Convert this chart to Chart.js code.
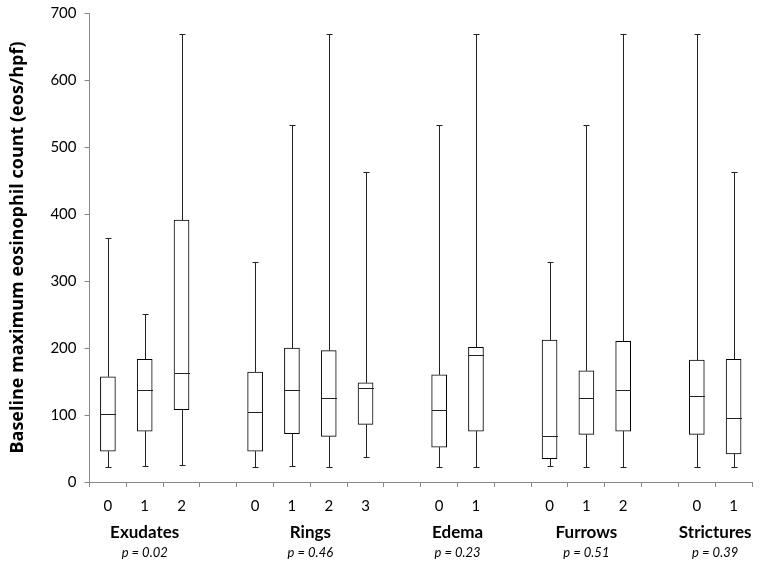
<!DOCTYPE html>
<html>
<head>
<meta charset="utf-8">
<script src="https://cdn.jsdelivr.net/npm/chart.js@4"></script>
<style>
  body { margin: 0; background: #fff; }
  #wrap { width: 762px; height: 569px; }
</style>
</head>
<body>
<div id="wrap"><canvas id="myChart"></canvas></div>
<script>
// slots on the x axis, '' = gap between groups
const categories = ['0', '1', '2', '', '0', '1', '2', '3', '', '0', '1', '', '0', '1', '2', '', '0', '1'];
const groups = ['Exudates', 'Rings', 'Edema', 'Furrows', 'Strictures'];
const pValues = ['p = 0.02', 'p = 0.46', 'p = 0.23', 'p = 0.51', 'p = 0.39'];

// box plot stats per slot (eos/hpf)
const mins    = [22, 24, 25, null, 23, 24, 22, 38, null, 22, 23, null, 24, 23, 22, null, 22, 23];
const q1      = [46, 76, 108, null, 46, 72, 68, 86, null, 52, 76, null, 35, 71, 76, null, 71, 42];
const medians = [102, 138, 162, null, 104, 138, 126, 141, null, 107, 190, null, 68, 125, 137, null, 128, 95];
const q3      = [157, 183, 391, null, 164, 200, 196, 148, null, 160, 201, null, 212, 166, 210, null, 182, 183];
const maxs    = [364, 251, 668, null, 328, 533, 668, 462, null, 533, 668, null, 328, 533, 668, null, 668, 462];

const yTicks = [0, 100, 200, 300, 400, 500, 600, 700];

const boxes = q1.map((v, i) => v == null ? null : [v, q3[i]]);

// whiskers, medians and group labels
const boxPlugin = {
  id: 'boxExtras',
  afterDatasetsDraw(chart) {
    const ctx = chart.ctx;
    const x = chart.scales.x, y = chart.scales.y;
    const half = 7.5, cap = 3;
    ctx.save();
    ctx.strokeStyle = '#222';
    ctx.lineWidth = 1;
    for (let i = 0; i < categories.length; i++) {
      if (medians[i] == null) continue;
      const px = Math.round(x.getPixelForValue(i)) + 0.5;
      const yMin = Math.round(y.getPixelForValue(mins[i])) + 0.5;
      const yQ1 = y.getPixelForValue(q1[i]);
      const yMed = Math.round(y.getPixelForValue(medians[i])) + 0.5;
      const yQ3 = y.getPixelForValue(q3[i]);
      const yMax = Math.round(y.getPixelForValue(maxs[i])) + 0.5;
      ctx.beginPath();
      ctx.moveTo(px, yQ3); ctx.lineTo(px, yMax);
      ctx.moveTo(px - cap, yMax); ctx.lineTo(px + cap, yMax);
      ctx.moveTo(px, yQ1); ctx.lineTo(px, yMin);
      ctx.moveTo(px - cap, yMin); ctx.lineTo(px + cap, yMin);
      ctx.moveTo(px - half, yMed); ctx.lineTo(px + half, yMed);
      ctx.stroke();
    }
    // group names and p values under the axis
    let g = 0, start = null;
    ctx.fillStyle = '#000';
    ctx.textAlign = 'center';
    ctx.textBaseline = 'middle';
    for (let i = 0; i <= categories.length; i++) {
      const c = categories[i];
      if (c !== undefined && c !== '') {
        if (start === null) start = i;
      } else if (start !== null) {
        const cx = (x.getPixelForValue(start) + x.getPixelForValue(i - 1)) / 2;
        ctx.font = 'bold 17px Lato';
        ctx.fillText(groups[g], cx, 533);
        ctx.font = 'italic 13px Lato';
        ctx.fillText(pValues[g], cx, 553);
        g++;
        start = null;
      }
    }
    ctx.restore();
  }
};

new Chart(document.getElementById('myChart'), {
  type: 'bar',
  data: {
    labels: categories,
    datasets: [{
      data: boxes,
      backgroundColor: '#ffffff',
      borderColor: '#000000',
      borderWidth: 1,
      borderSkipped: false,
      barThickness: 15
    }]
  },
  options: {
    responsive: true,
    maintainAspectRatio: false,
    animation: false,
    layout: { padding: { top: 13, right: 10, left: 0, bottom: 0 } },
    plugins: {
      legend: { display: false },
      tooltip: { enabled: false }
    },
    scales: {
      x: {
        offset: true,
        afterFit: s => { s.height = 87; s.paddingLeft = 0; s.paddingRight = 0; },
        border: { color: '#888', width: 1 },
        grid: { offset: true, drawOnChartArea: false, tickLength: 5, color: '#888' },
        ticks: { color: '#000', padding: 10, font: { family: 'Lato', size: 15 }, autoSkip: false, maxRotation: 0 }
      },
      y: {
        min: 0,
        max: 700,
        afterFit: s => { s.width = 89.5; s.paddingTop = 0; s.paddingBottom = 0; },
        afterBuildTicks: s => { s.ticks = yTicks.map(v => ({ value: v })); },
        border: { color: '#888', width: 1 },
        grid: { drawOnChartArea: false, tickLength: 5, color: '#888' },
        ticks: { color: '#000', padding: 8, font: { family: 'Lato', size: 15 } },
        title: {
          display: true,
          text: 'Baseline maximum eosinophil count (eos/hpf)',
          color: '#000',
          font: { family: 'Open Sans', size: 18, weight: 'bold' },
          padding: { top: 7, bottom: 0 }
        }
      }
    }
  },
  plugins: [boxPlugin]
});
</script>
</body>
</html>
